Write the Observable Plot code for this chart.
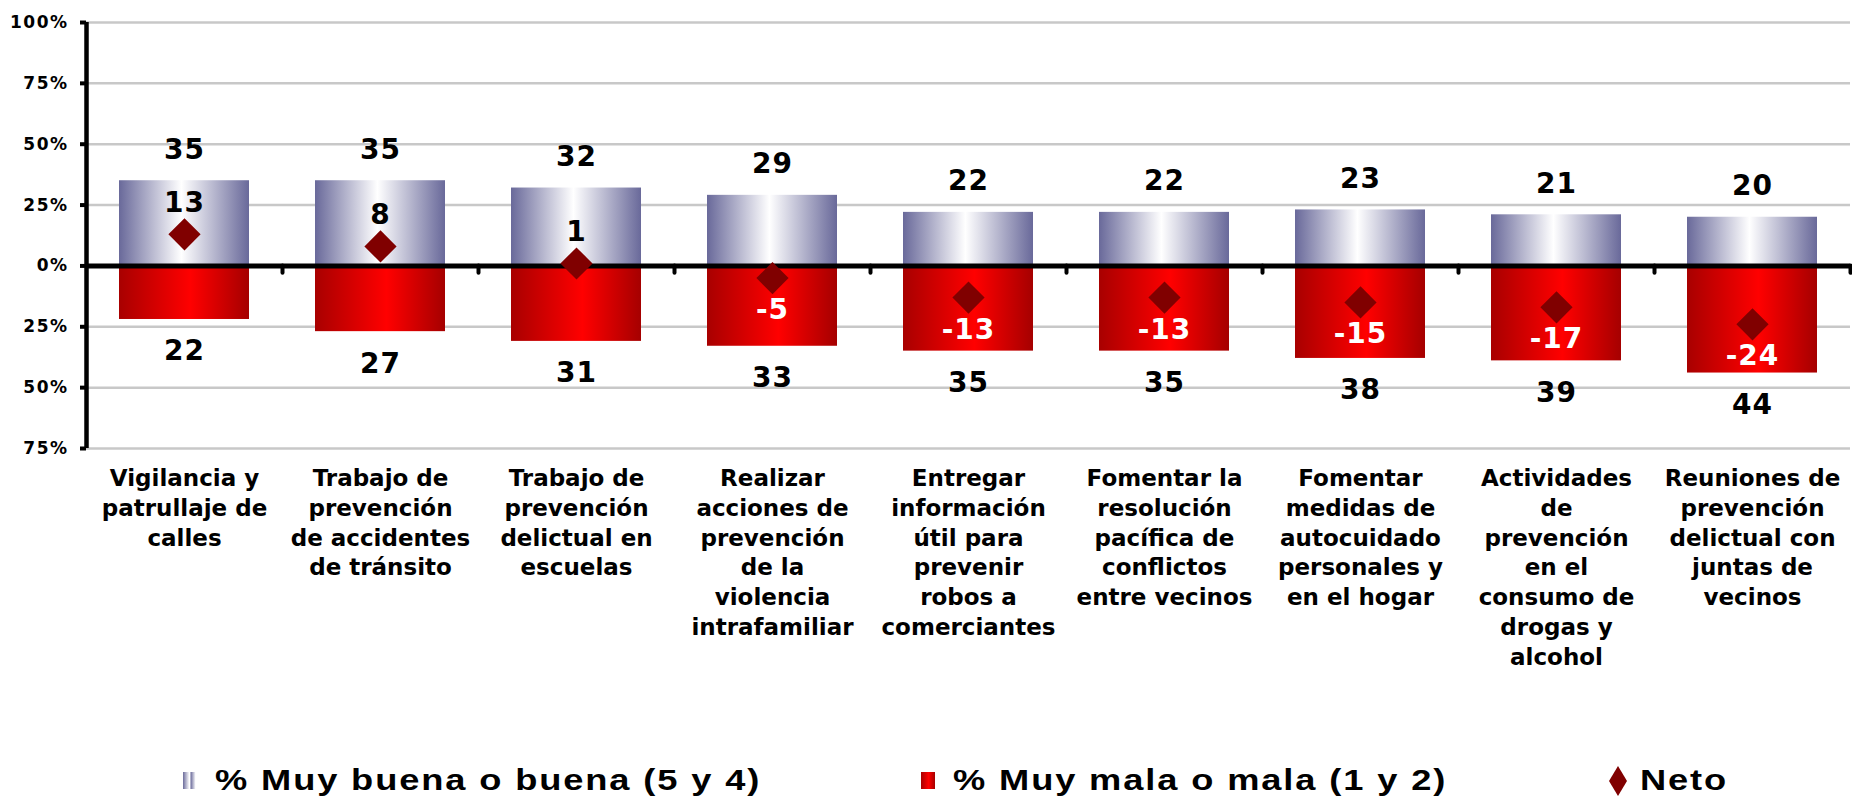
<!DOCTYPE html>
<html>
<head>
<meta charset="utf-8">
<script src="https://cdn.jsdelivr.net/npm/d3@7"></script>
<script src="https://cdn.jsdelivr.net/npm/@observablehq/plot@0.6"></script>
<style>
  html, body { margin: 0; padding: 0; background: #fff; }
  #wrap { position: relative; width: 1852px; height: 798px; overflow: hidden; }
  #chart svg { display: block; }
  .lv text { letter-spacing: 1px; }
  .yt text { letter-spacing: 1.5px; }
  #legend { position: absolute; left: 0; top: 745px; width: 1852px; height: 53px;
    font-family: "Liberation Sans", Arial, sans-serif; font-weight: bold; font-size: 29px; letter-spacing: 1.5px; color: #000; }
  .item { position: absolute; top: 17px; height: 36px; }
  .sw { position: absolute; top: 10px; left: 0; }
  .lt { position: absolute; left: 32px; top: 0; line-height: 36px; white-space: nowrap; display: inline-block; transform: scaleX(1.25); transform-origin: 0 50%; }
</style>
</head>
<body>
<div id="wrap">
  <div id="chart"></div>
  <div id="legend">
    <div class="item" style="left:183px"><span class="sw" style="width:14px;height:17px;background:linear-gradient(90deg,#6b6b9b,#fff 45%,#fff 52%,#6b6b9b 55%,#fff 90%)"></span><span class="lt" id="l1"></span></div>
    <div class="item" style="left:921px"><span class="sw" style="width:14px;height:17px;background:linear-gradient(90deg,#a80000,#ff0000 55%,#a50000)"></span><span class="lt" id="l2"></span></div>
    <div class="item" style="left:1608px"><svg class="sw" style="top:3px" width="20" height="32" viewBox="0 0 20 32"><path d="M10 1 L19 16 L10 31 L1 16 Z" fill="#800000"/></svg><span class="lt" id="l3"></span></div>
  </div>
</div>
<script>
const categories = [
  "Vigilancia y\npatrullaje de\ncalles",
  "Trabajo de\nprevención\nde accidentes\nde tránsito",
  "Trabajo de\nprevención\ndelictual en\nescuelas",
  "Realizar\nacciones de\nprevención\nde la\nviolencia\nintrafamiliar",
  "Entregar\ninformación\nútil para\nprevenir\nrobos a\ncomerciantes",
  "Fomentar la\nresolución\npacífica de\nconflictos\nentre vecinos",
  "Fomentar\nmedidas de\nautocuidado\npersonales y\nen el hogar",
  "Actividades\nde\nprevención\nen el\nconsumo de\ndrogas y\nalcohol",
  "Reuniones de\nprevención\ndelictual con\njuntas de\nvecinos"
];
const buena = [35, 35, 32, 29, 22, 22, 23, 21, 20];
const mala = [22, 27, 31, 33, 35, 35, 38, 39, 44];
const neto = [13, 8, 1, -5, -13, -13, -15, -17, -24];
const yTicks = [-75, -50, -25, 0, 25, 50, 75, 100];
const seriesNames = ["% Muy buena o buena (5 y 4)", "% Muy mala o mala (1 y 2)", "Neto"];

document.getElementById("l1").textContent = seriesNames[0];
document.getElementById("l2").textContent = seriesNames[1];
document.getElementById("l3").textContent = seriesNames[2];

const rows = categories.map((c, i) => ({cat: c, buena: buena[i], mala: -mala[i], neto: neto[i]}));

const W = 1852, H = 745, ML = 86, MR = 2;
const step = (W - ML - MR) / categories.length;

function defs() {
  const d = d3.create("svg:defs");
  const gb = d.append("linearGradient").attr("id", "gBlue").attr("x1", 0).attr("x2", 1).attr("y1", 0).attr("y2", 0);
  gb.append("stop").attr("offset", "0%").attr("stop-color", "#69699a");
  gb.append("stop").attr("offset", "48%").attr("stop-color", "#ffffff");
  gb.append("stop").attr("offset", "100%").attr("stop-color", "#69699a");
  const gr = d.append("linearGradient").attr("id", "gRed").attr("x1", 0).attr("x2", 1).attr("y1", 0).attr("y2", 0);
  gr.append("stop").attr("offset", "0%").attr("stop-color", "#a80000");
  gr.append("stop").attr("offset", "55%").attr("stop-color", "#ff0000");
  gr.append("stop").attr("offset", "100%").attr("stop-color", "#a50000");
  return d.node();
}

const chart = Plot.plot({
  width: W,
  height: H,
  marginLeft: ML,
  marginRight: MR,
  marginTop: 22,
  marginBottom: H - 448,
  style: {fontFamily: "'DejaVu Sans', Verdana, sans-serif", fontWeight: "bold", color: "#000", background: "#fff"},
  x: {domain: categories, paddingInner: 0.337, paddingOuter: 0.1685, axis: null},
  y: {domain: [-75, 100]},
  marks: [
    defs,
    Plot.ruleY(yTicks.filter(t => t !== 0), {stroke: "#c8c8c8", strokeWidth: 2.5}),
    Plot.barY(rows, {x: "cat", y: "buena", fill: "url(#gBlue)"}),
    Plot.barY(rows, {x: "cat", y: "mala", fill: "url(#gRed)"}),
    Plot.ruleY([0], {stroke: "#000", strokeWidth: 5}),
    Plot.ruleX(categories, {x: d => d, dx: step / 2, y1: 0, y2: -3, stroke: "#000", strokeWidth: 4, strokeLinecap: "round"}),
    Plot.ruleX([categories[0]], {x: d => d, dx: -step / 2, y1: -75, y2: 100, stroke: "#000", strokeWidth: 4.5}),
    Plot.axisY(yTicks, {tickSize: 6, strokeWidth: 4, tickPadding: 12, fontSize: 17, className: "yt",
      tickFormat: d => Math.abs(d) + "%"}),
    Plot.text(rows, {x: "cat", y: "buena", text: d => String(d.buena), dy: -31, fontSize: 28, fill: "#000", className: "lv"}),
    Plot.text(rows, {x: "cat", y: "mala", text: d => String(-d.mala), dy: 32, fontSize: 28, fill: "#000", className: "lv"}),
    Plot.dot(rows, {x: "cat", y: "neto", symbol: "diamond2", r: 14.5, fill: "#800000", stroke: "none"}),
    Plot.text(rows.filter(d => d.neto > 0), {x: "cat", y: "neto", text: d => String(d.neto), dy: -31, fontSize: 28, fill: "#000", className: "lv"}),
    Plot.text(rows.filter(d => d.neto <= 0), {x: "cat", y: "neto", text: d => String(d.neto), dy: 32, fontSize: 28, fill: "#fff", className: "lv"}),
    Plot.text(categories, {x: d => d, frameAnchor: "bottom", lineAnchor: "top", dy: 16, fontSize: 23, lineHeight: 1.3, fill: "#000"})
  ]
});
document.getElementById("chart").appendChild(chart);
</script>
</body>
</html>
